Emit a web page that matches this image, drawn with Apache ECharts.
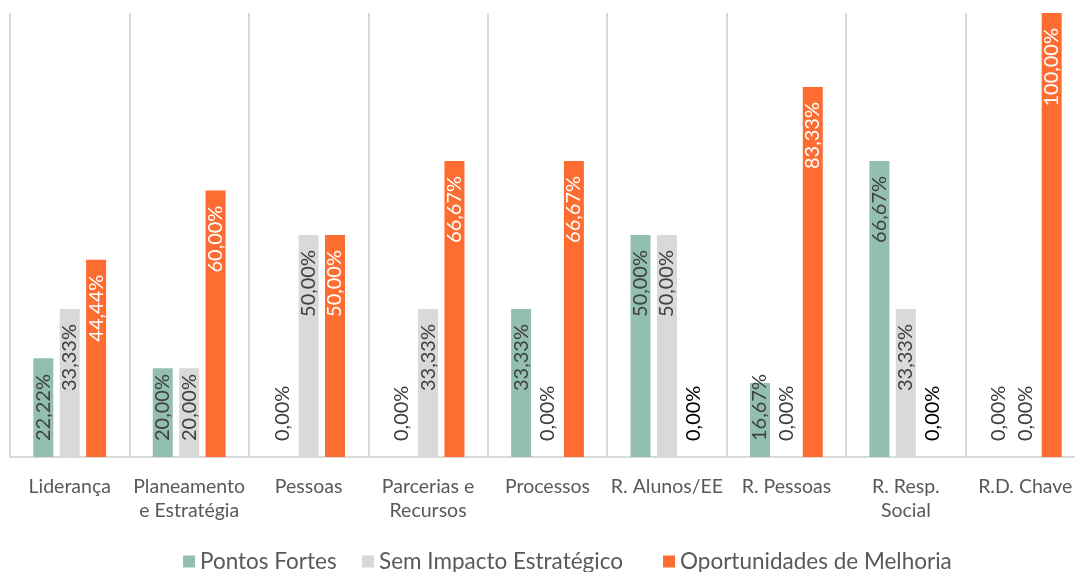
<!DOCTYPE html>
<html>
<head>
<meta charset="utf-8">
<script src="https://cdn.jsdelivr.net/npm/echarts@6/dist/echarts.min.js"></script>
<style>
  html, body { margin: 0; padding: 0; background: #ffffff; }
  #chart { width: 1075px; height: 572px; }
</style>
</head>
<body>
<div id="chart"></div>
<script>
// Categories (areas assessed) and the share of items per classification, in %
const categories = [
  'Liderança', 'Planeamento\ne Estratégia', 'Pessoas', 'Parcerias e\nRecursos',
  'Processos', 'R. Alunos/EE', 'R. Pessoas', 'R. Resp.\nSocial', 'R.D. Chave'
];
const pontosFortes = [22.22, 20.00, 0.00, 0.00, 33.33, 50.00, 16.67, 66.67, 0.00];
const semImpacto   = [33.33, 20.00, 50.00, 33.33, 0.00, 50.00, 0.00, 33.33, 0.00];
const oportunidades = [44.44, 60.00, 50.00, 66.67, 66.67, 0.00, 83.33, 0.00, 100.00];
const seriesNames = ['Pontos Fortes', 'Sem Impacto Estratégico', 'Oportunidades de Melhoria'];

const FONT = 'Lato, "Open Sans", sans-serif';
const colors = ['#93C0AE', '#D9D9D9', '#FD6C31'];

function fmt(v) {
  return v.toFixed(2).replace('.', ',') + '%';
}

// Label inside the top of the bar; short bars get the label anchored near the base
function buildData(values, textColor, zeroColor) {
  return values.map(v => {
    const small = v < 25;
    return {
      value: v,
      label: {
        show: true,
        rotate: 90,
        position: small ? 'insideBottom' : 'insideTop',
        align: small ? 'left' : 'right',
        verticalAlign: 'middle',
        distance: small ? 16 : 15,
        color: v === 0 ? zeroColor : textColor,
        fontFamily: FONT,
        fontSize: 20,
        formatter: () => fmt(v)
      }
    };
  });
}

// One legend entry per series, laid out along the bottom
const legendLefts = [183, 362, 663];
const legends = seriesNames.map((name, i) => ({
  left: legendLefts[i],
  top: 550,
  padding: 0,
  itemWidth: 12,
  itemHeight: 12,
  icon: 'rect',
  textStyle: { color: '#595959', fontFamily: FONT, fontSize: 22.5 },
  data: [name]
}));

const chart = echarts.init(document.getElementById('chart'), null, { renderer: 'canvas' });

chart.setOption({
  animation: false,
  backgroundColor: '#ffffff',
  color: colors,
  // plot runs a little past the right edge of the canvas
  grid: { left: 10, width: 1075, top: 13, bottom: 115, containLabel: false, outerBoundsMode: 'none' },
  legend: legends,
  xAxis: {
    type: 'category',
    data: categories,
    axisLine: { show: true, lineStyle: { color: '#D9D9D9', width: 2 } },
    axisTick: { show: false },
    splitLine: { show: true, lineStyle: { color: '#D9D9D9', width: 2 } },
    axisLabel: {
      color: '#595959',
      fontFamily: FONT,
      fontSize: 19.5,
      lineHeight: 24,
      margin: 18,
      interval: 0
    }
  },
  yAxis: {
    type: 'value',
    min: 0,
    max: 100,
    show: false,
    splitLine: { show: false }
  },
  series: [
    {
      name: seriesNames[0], type: 'bar', barWidth: 20, barGap: '32%',
      data: buildData(pontosFortes, '#404040', '#404040')
    },
    {
      name: seriesNames[1], type: 'bar', barWidth: 20, barGap: '32%',
      data: buildData(semImpacto, '#404040', '#404040')
    },
    {
      name: seriesNames[2], type: 'bar', barWidth: 20, barGap: '32%',
      data: buildData(oportunidades, '#ffffff', '#000000')
    }
  ]
});
</script>
</body>
</html>
